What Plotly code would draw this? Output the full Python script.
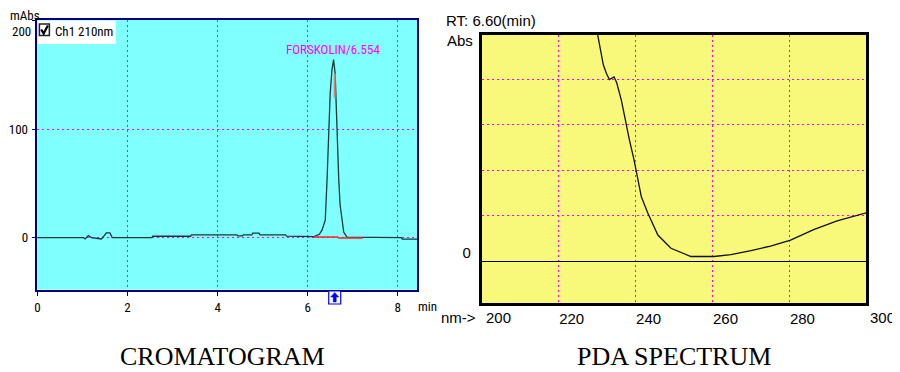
import plotly.graph_objects as go

# The page body keeps its default 8px margin, so the 900x372 figure starts
# 8px in from the window corner; positions below are in window pixels.
OX, OY = 8, 8
W, H = 900, 372

# ---------------- data ----------------
# Chromatogram (time in min, absorbance in mAbs)
chrom_t = [0.00, 1.02, 1.06, 1.13, 1.20, 1.42, 1.48, 1.53, 1.61, 1.66, 2.54, 2.56,
           3.40, 3.42, 4.43, 4.45, 4.55, 4.57, 4.76, 4.78, 4.92, 4.94, 5.51, 5.53,
           6.14, 6.26, 6.32, 6.36, 6.39, 6.43, 6.47, 6.50, 6.54, 6.575, 6.61, 6.65,
           6.69, 6.72, 6.75, 6.80, 6.87, 8.08, 8.10, 8.44]
chrom_y = [0.0, 0.0, -1.3, 1.8, 0.0, -1.3, 1.5, 4.3, 4.3, 0.0, 0.0, 1.2,
           1.2, 2.5, 2.5, 1.5, 1.5, 2.5, 2.5, 4.0, 4.0, 2.5, 2.5, 1.2,
           0.8, 3.0, 7.0, 12.0, 16.0, 53.0, 99.0, 133.0, 155.0, 164.0, 151.0, 99.0,
           53.0, 30.0, 19.0, 5.0, 0.3, 0.0, -1.5, -1.5]
base1_t = [6.13, 6.68]
base1_y = [0.6, 0.6]
base2_t = [6.68, 7.22]
base2_y = [-0.5, -0.5]
mark_t = [6.60, 6.60]
mark_y = [129, 151]
peak_name = "FORSKOLIN/6.554"
peak_rt = 6.554
peak_label_y = 173
marker_rt = 6.60
chrom_xticks = [0, 2, 4, 6, 8]
chrom_yticks = [0, 100, 200]

# PDA spectrum (wavelength in nm, absorbance)
spec_nm = [229.2, 230.7, 231.6, 232.4, 233.2, 234.4, 235.1, 236.3, 237.3, 238.4,
           239.6, 240.4, 241.5, 243.2, 245.8, 249.2, 252.7, 254.4, 260.4, 264.8,
           270.0, 275.1, 280.3, 286.3, 292.4, 299.7, 300.5]
spec_abs = [5.40, 4.72, 4.32, 4.13, 3.99, 4.05, 3.92, 3.54, 3.11, 2.67,
            2.23, 1.86, 1.42, 1.06, 0.58, 0.29, 0.16, 0.11, 0.11, 0.15,
            0.24, 0.34, 0.47, 0.70, 0.89, 1.06, 1.08]
spec_xticks = [200, 220, 240, 260, 280, 300]
spec_edge_ticks = ["200", "300"]
spec_yticks = [0, 1, 2, 3, 4]

# ---------------- helpers (window pixels -> paper fractions) ----------------
def px(x):
    return (x - OX) / W

def py(y):
    return 1 - (y - OY) / H

NARROW = "Liberation Sans Narrow, Roboto Condensed, DejaVu Sans Condensed, sans-serif"
SANS = "Liberation Sans, Arial, sans-serif"
SERIF = "Liberation Serif, Times New Roman, serif"
MAG = "#FF00FF"
NAVY = "#000080"

fig = go.Figure()

fig.add_trace(go.Scatter(x=chrom_t, y=chrom_y, mode="lines",
                         line=dict(color="#163838", width=1.3),
                         xaxis="x", yaxis="y", showlegend=False, hoverinfo="skip"))
fig.add_trace(go.Scatter(x=base1_t, y=base1_y, mode="lines",
                         line=dict(color="#FF2020", width=1.5),
                         xaxis="x", yaxis="y", showlegend=False, hoverinfo="skip"))
fig.add_trace(go.Scatter(x=base2_t, y=base2_y, mode="lines",
                         line=dict(color="#FF2020", width=1.5),
                         xaxis="x", yaxis="y", showlegend=False, hoverinfo="skip"))
fig.add_trace(go.Scatter(x=mark_t, y=mark_y, mode="lines",
                         line=dict(color="#D88070", width=2),
                         xaxis="x", yaxis="y", showlegend=False, hoverinfo="skip"))

fig.add_trace(go.Scatter(x=spec_nm, y=spec_abs, mode="lines",
                         line=dict(color="#101010", width=1.3),
                         xaxis="x2", yaxis="y2", showlegend=False, hoverinfo="skip"))

layout = dict(
    width=W, height=H,
    margin=dict(l=0, r=0, t=0, b=0),
    paper_bgcolor="white",
    plot_bgcolor="rgba(0,0,0,0)",
    showlegend=False,
    xaxis=dict(domain=[px(34.5), px(415.5)], range=[0, 8.43],
               tickvals=chrom_xticks, ticktext=[str(v) for v in chrom_xticks],
               ticks="outside", ticklen=5, tickcolor=NAVY, tickwidth=1,
               showline=True, linecolor=NAVY, linewidth=1.5, mirror=True,
               showgrid=True, gridcolor=MAG, gridwidth=1, griddash="2px,3px",
               zeroline=False, ticklabelstandoff=0,
               tickfont=dict(family=NARROW, size=13, color="black"),
               anchor="y", fixedrange=True),
    yaxis=dict(domain=[py(289.5), py(20)], range=[-47.9, 200.5],
               tickvals=chrom_yticks, ticktext=["0", "100", ""],
               ticks="outside", ticklen=4, tickcolor=NAVY, tickwidth=1,
               showline=True, linecolor=NAVY, linewidth=1.5, mirror=True,
               showgrid=True, gridcolor=MAG, gridwidth=1, griddash="2px,3px",
               zeroline=False, ticklabelstandoff=1,
               tickfont=dict(family=NARROW, size=13, color="black"),
               anchor="x", fixedrange=True),
    xaxis2=dict(domain=[px(480.5), px(866)], range=[200.05, 299.95],
                tickvals=spec_xticks, ticktext=[str(v) for v in spec_xticks],
                ticks="", showline=True, linecolor="black", linewidth=3, mirror=True,
                showgrid=True, gridcolor=MAG, gridwidth=1, griddash="2px,3px",
                zeroline=False, ticklabelshift=13, ticklabelstandoff=0,
                tickfont=dict(family=SANS, size=15, color="black"),
                anchor="y2", fixedrange=True),
    yaxis2=dict(domain=[py(303), py(34.5)], range=[-0.91, 4.98],
                tickvals=spec_yticks, ticktext=["0", "", "", "", ""],
                ticks="", showline=True, linecolor="black", linewidth=3, mirror=True,
                showgrid=True, gridcolor=MAG, gridwidth=1, griddash="2px,3px",
                zeroline=True, zerolinecolor="black", zerolinewidth=1,
                ticklabelshift=-9, ticklabelstandoff=5,
                tickfont=dict(family=SANS, size=15, color="black"),
                anchor="x2", fixedrange=True),
)

shapes = [
    # plot backgrounds
    dict(type="rect", xref="x domain", yref="y domain", x0=0, x1=1, y0=0, y1=1,
         fillcolor="#80FFFF", line=dict(width=0), layer="below"),
    dict(type="rect", xref="x2 domain", yref="y2 domain", x0=0, x1=1, y0=0, y1=1,
         fillcolor="#F8F87A", line=dict(width=0), layer="below"),
    # legend box
    dict(type="rect", xref="paper", yref="paper", x0=px(35), x1=px(113),
         y0=py(44), y1=py(20.5), fillcolor="white", line=dict(width=0), layer="above"),
    dict(type="rect", xref="paper", yref="paper", x0=px(36.5), x1=px(46.5),
         y0=py(35.5), y1=py(24), fillcolor="white",
         line=dict(color="#202020", width=1.5), layer="above"),
    dict(type="path", xref="paper", yref="paper",
         path=f"M {px(38.3)} {py(29.5)} L {px(40.8)} {py(33.5)} L {px(45)} {py(25.5)}",
         line=dict(color="black", width=2.2), layer="above"),
    # retention-time marker under the x axis
    dict(type="rect", xref="x", yref="paper", xsizemode="pixel", xanchor=marker_rt,
         x0=-6, x1=6, y0=py(304), y1=py(291), fillcolor="white",
         line=dict(color="#0000FF", width=1.2), layer="above"),
    dict(type="path", xref="x", yref="paper", xsizemode="pixel", xanchor=marker_rt,
         ysizemode="pixel", yanchor=py(297.5),
         path="M 0 5 L 4 0.5 L 1.5 0.5 L 1.5 -4.5 L -1.5 -4.5 L -1.5 0.5 L -4 0.5 Z",
         fillcolor="#0000FF", line=dict(color="#0000FF", width=0.5), layer="above"),
]
layout["shapes"] = shapes

annotations = [
    dict(text="mAbs", xref="paper", yref="paper", x=px(22.5), y=py(15.5),
         xanchor="center", yanchor="middle", showarrow=False,
         font=dict(family=NARROW, size=13, color="black")),
    dict(text="200", xref="paper", yref="paper", x=px(30.5), y=py(32),
         xanchor="right", yanchor="middle", showarrow=False,
         font=dict(family=NARROW, size=13, color="black")),
    dict(text="Ch1 210nm", xref="paper", yref="paper", x=px(50), y=py(32),
         xanchor="left", yanchor="middle", showarrow=False,
         font=dict(family=NARROW, size=13, color="black")),
    dict(text=peak_name, xref="x", yref="y", x=peak_rt, y=peak_label_y,
         xanchor="center", yanchor="middle", showarrow=False,
         font=dict(family=NARROW, size=13, color=MAG)),
    dict(text="min", xref="paper", yref="paper", x=px(426), y=py(306),
         xanchor="center", yanchor="middle", showarrow=False,
         font=dict(family=NARROW, size=13, color="black")),
    dict(text="CROMATOGRAM", xref="paper", yref="paper", x=px(220), y=py(356),
         xanchor="center", yanchor="middle", showarrow=False,
         font=dict(family=SERIF, size=26, color="black")),
    dict(text="RT: 6.60(min)", xref="paper", yref="paper", x=px(442), y=py(21),
         xanchor="left", yanchor="middle", showarrow=False,
         font=dict(family=SANS, size=15, color="black")),
    dict(text="Abs", xref="paper", yref="paper", x=px(474), y=py(40),
         xanchor="right", yanchor="middle", showarrow=False,
         font=dict(family=SANS, size=15, color="black")),
    dict(text="nm->", xref="paper", yref="paper", x=px(477), y=py(317),
         xanchor="right", yanchor="middle", showarrow=False,
         font=dict(family=SANS, size=15, color="black")),
    dict(text="PDA SPECTRUM", xref="paper", yref="paper", x=px(673), y=py(356),
         xanchor="center", yanchor="middle", showarrow=False,
         font=dict(family=SERIF, size=26, color="black")),
]
# end tick labels of the spectrum axis, at the two ends of its domain
for frac, label in zip([0, 1], spec_edge_ticks):
    annotations.append(dict(text=label, xref="x2 domain", yref="paper", x=frac,
                            y=py(317), xanchor="left", yanchor="middle",
                            showarrow=False, xshift=2,
                            font=dict(family=SANS, size=15, color="black")))
layout["annotations"] = annotations

fig.update_layout(**layout)
fig.write_html("out.html", config={"displayModeBar": False})
